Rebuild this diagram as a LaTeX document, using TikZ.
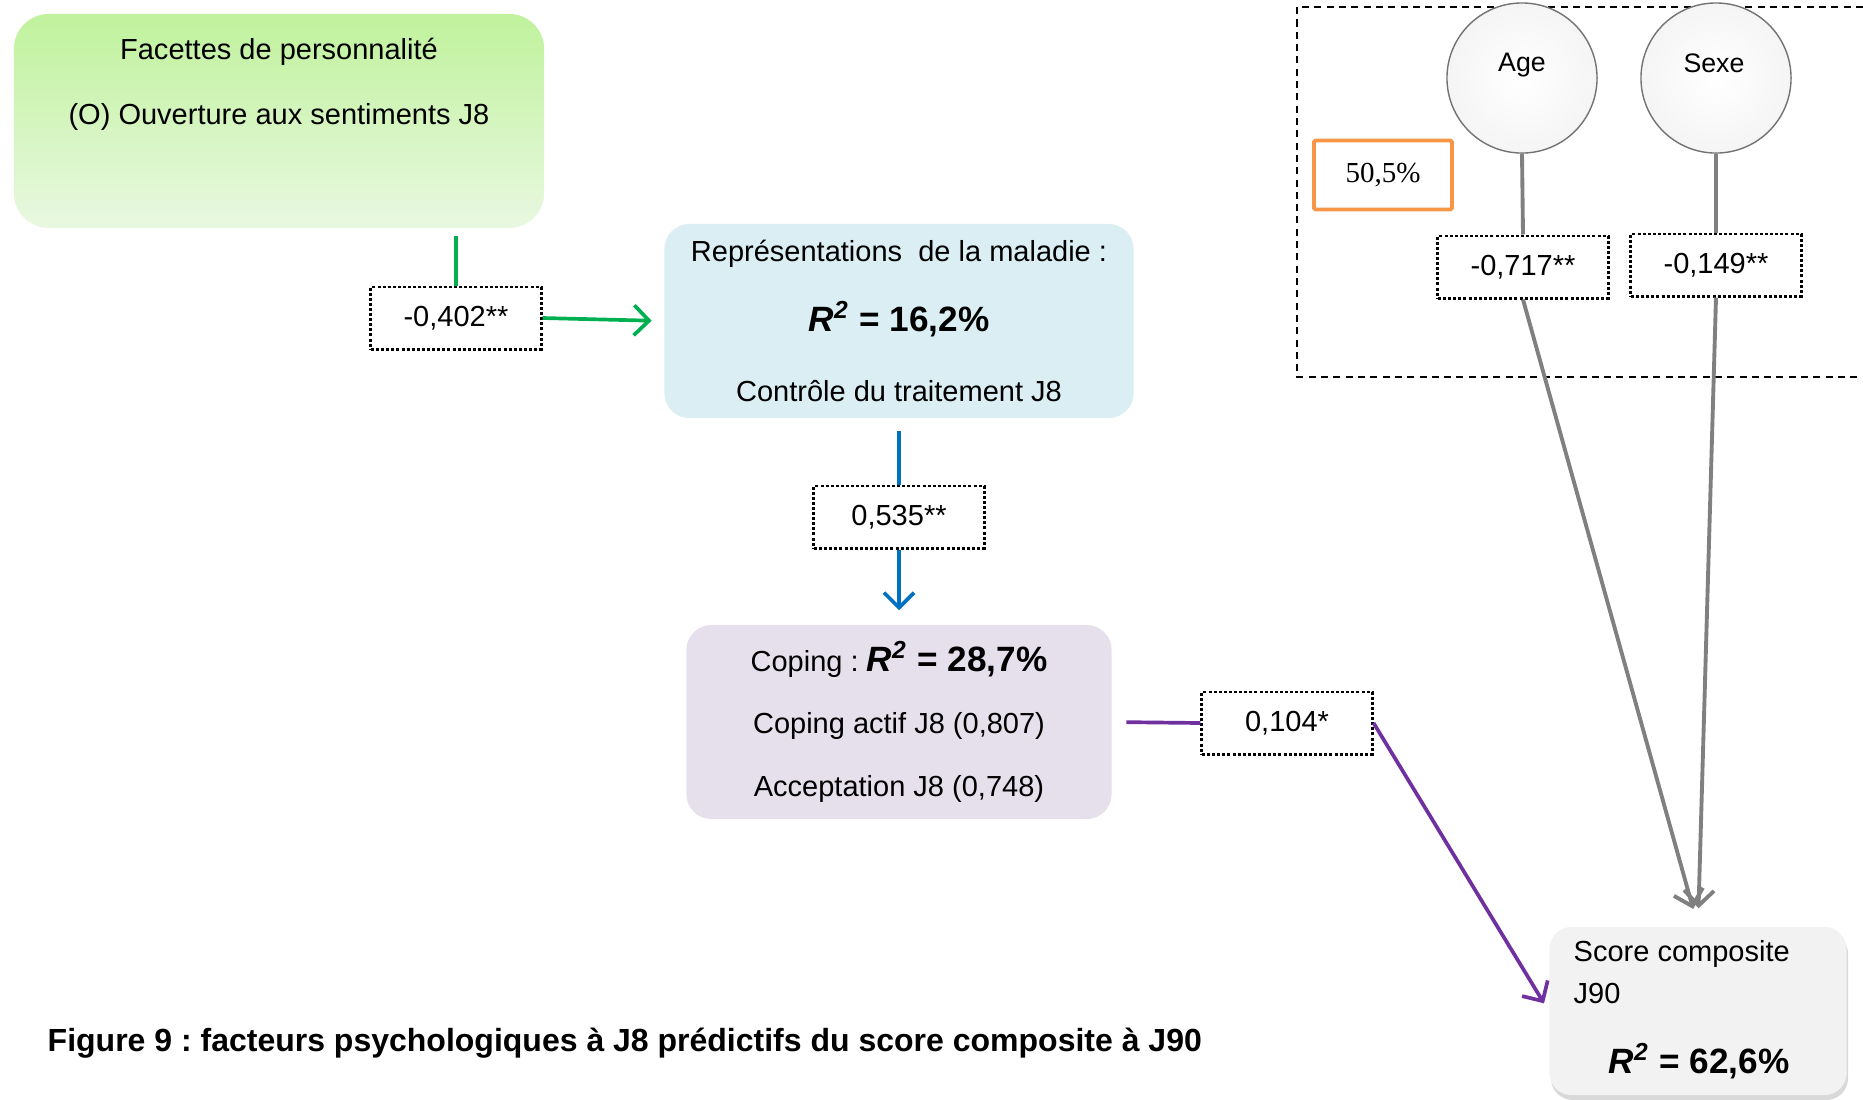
\documentclass[tikz,border=0pt]{standalone}
\usepackage{fontspec}
\setmainfont{Liberation Sans}
\newfontfamily\pctfont{Liberation Serif}
\usetikzlibrary{arrows.meta, positioning, calc, shadows}
\frenchspacing
\definecolor{mygreen}{RGB}{0,176,80}
\definecolor{myblue}{RGB}{0,112,192}
\definecolor{mypurple}{RGB}{112,48,160}
\definecolor{mygray}{RGB}{128,128,128}
\definecolor{myorange}{RGB}{247,150,70}
\definecolor{hdrgreentop}{RGB}{192,242,156}
\definecolor{hdrgreenbot}{RGB}{233,248,225}
\definecolor{hdrblue}{RGB}{218,238,243}
\definecolor{hdrpurple}{RGB}{229,224,236}
\definecolor{hdrgray}{RGB}{242,242,242}
\newcommand{\rdeux}[1]{\textbf{\textit{R}\textsuperscript{\textit{2}} = #1}}
\tikzset{
  txt/.style={inner sep=0pt, font=\fontsize{8.25}{10}\selectfont},
  bigtxt/.style={inner sep=0pt, font=\fontsize{10}{12}\selectfont},
  greenblock/.style={rectangle, rounded corners=0.35cm,
    top color=hdrgreentop, bottom color=hdrgreenbot,
    minimum width=5.3cm, minimum height=2.14cm},
  blueblock/.style={rectangle, rounded corners=0.25cm, fill=hdrblue,
    minimum width=4.69cm, minimum height=1.94cm, align=center,
    font=\fontsize{8.25}{19.9}\selectfont},
  purpblock/.style={rectangle, rounded corners=0.25cm, fill=hdrpurple,
    minimum width=4.25cm, minimum height=1.94cm, align=center,
    font=\fontsize{8.25}{17.9}\selectfont},
  scoreblock/.style={rectangle, rounded corners=0.22cm, fill=hdrgray,
    minimum width=2.97cm, minimum height=1.68cm,
    drop shadow={shadow xshift=0.015cm, shadow yshift=-0.05cm, opacity=0.3}},
  coef/.style={rectangle, draw=black, line width=0.85pt,
    dash pattern=on 0.85pt off 0.6pt, fill=white,
    minimum width=1.7cm, minimum height=0.62cm,
    font=\fontsize{8.25}{10}\selectfont},
  pctbox/.style={rectangle, draw=myorange, line width=1.1pt,
    rounded corners=0.5pt, minimum width=1.38cm, minimum height=0.69cm,
    font=\pctfont\fontsize{8.25}{10}\selectfont},
  ball/.style={circle, draw=black!55, thin, inner color=white,
    outer color=black!4, minimum size=1.5cm},
  greenline/.style={line width=1.05pt, color=mygreen},
  blueline/.style={line width=1.05pt, color=myblue},
  purpline/.style={line width=1.05pt, color=mypurple},
  grayline/.style={line width=1.1pt, color=mygray},
  barb/.style={-{Straight Barb[length=0.15cm, width=0.3cm]}}
}
\begin{document}
\begin{tikzpicture}[x=0.01cm, y=-0.01cm]
  \useasboundingbox (0,0) rectangle (1863,1099);

  % Blocks
  \node[greenblock] (facettes) at (279,121) {};
  \node[txt] (facettes1) at (279,52) {Facettes de personnalité};
  \node[txt] (facettes2) at (279,117) {(O) Ouverture aux sentiments J8};

  \node[blueblock] (repr) at (899,321) {Représentations~ de la maladie :\\
    {\fontsize{10}{19.9}\selectfont\rdeux{16,2\%}}\\
    Contrôle du traitement J8};

  \node[purpblock] (coping) at (899,722) {Coping : {\fontsize{10}{17.9}\selectfont\rdeux{28,7\%}}\\
    Coping actif J8 (0,807)\\
    Acceptation J8 (0,748)};

  \node[scoreblock] (score) at (1698,1011) {};
  \node[txt, anchor=west] (score1) at (1573,954) {Score composite};
  \node[txt, anchor=west] (score2) at (1573,993) {J90};
  \node[bigtxt] (score3) at (1699,1061) {\rdeux{62,6\%}};

  % Controls
  \draw[line width=0.55pt, dash pattern=on 2pt off 1.5pt]
    (1863,7) -- (1297,7) -- (1297,377) -- (1863,377);
  \node[ball] (age) at (1522,78) {};
  \node[ball] (sexe) at (1716,78) {};
  \node[txt, font=\fontsize{7.6}{9}\selectfont] (agelbl) at (1522,65) {Age};
  \node[txt, font=\fontsize{7.6}{9}\selectfont] (sexelbl) at (1714,63) {Sexe};
  \node[pctbox] (pct) at (1383,175) {50,5\%};

  % Coefficients
  \node[coef] (c402) at (456,318) {-0,402**};
  \node[coef] (c535) at (899,517) {0,535**};
  \node[coef] (c104) at (1287,723) {0,104*};
  \node[coef] (c717) at (1523,267) {-0,717**};
  \node[coef] (c149) at (1716,265) {-0,149**};

  % Arrows
  \draw[greenline] (c402.north) -- ($(c402.north |- facettes.south)+(0,7)$);
  \draw[greenline, barb, shorten >=0.12cm] (c402.east) -- (repr.west);
  \draw[blueline, shorten <=0.12cm] (repr.south) -- (c535.north);
  \draw[blueline, barb, shorten >=0.14cm] (c535.south) -- (coping.north);
  \draw[purpline, shorten <=0.14cm] (coping.east) -- (c104.west);
  \draw[purpline, barb, shorten >=0.09cm] (c104.east) -- (score.west);
  \draw[grayline] (age.south) -- (c717.north);
  \draw[grayline] (sexe.south) -- (c149.north);
  \draw[grayline, barb, shorten >=0.18cm] (c717.south) -- (score.north);
  \draw[grayline, barb, shorten >=0.18cm] (c149.south) -- (score.north);

  % Caption
  \node[txt, anchor=west, font=\fontsize{9.1}{11}\selectfont\bfseries] (caption) at (47,1043)
    {Figure 9 : facteurs psychologiques à J8 prédictifs du score composite à J90};
\end{tikzpicture}
\end{document}
